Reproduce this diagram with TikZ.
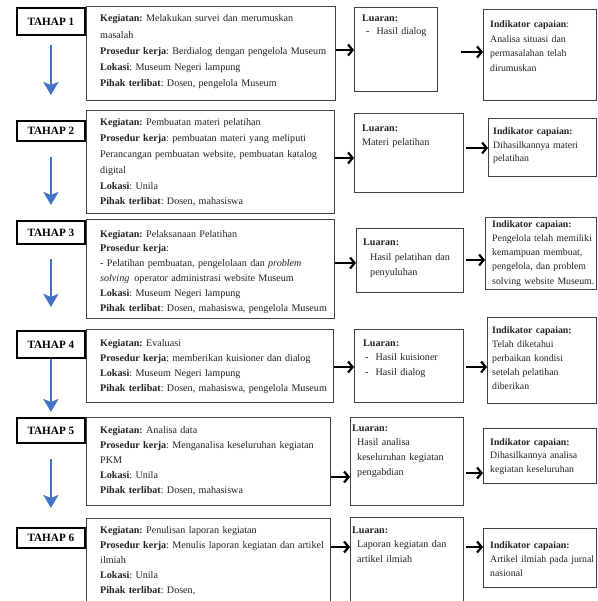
\documentclass[tikz,border=0pt]{standalone}
\usepackage{fontspec}
\setmainfont{Liberation Serif}
\usetikzlibrary{arrows.meta}
\frenchspacing

\definecolor{stepblue}{RGB}{68,114,196}
\definecolor{inkgray}{RGB}{35,35,35}

\tikzset{
  tahap/.style={draw, line width=1.8pt, anchor=north west, inner sep=0pt,
    minimum width=68pt, font=\fontsize{11.2}{13}\selectfont\bfseries},
  boxline/.style={draw=black!75, line width=.8pt, anchor=north west, inner sep=0pt},
  body/.style={anchor=base west, inner sep=0pt, align=left, text=inkgray,
    text width=#1, font=\fontsize{10.1}{15.2}\selectfont},
  outtext/.style={body=#1, font=\fontsize{10.1}{14.8}\selectfont},
  indtext/.style={body=#1, font=\fontsize{9.8}{14}\selectfont},
  flow/.style={line width=2.2pt, -{Straight Barb[length=4.5pt,width=11pt]}},
  down/.style={stepblue, line width=2.8pt, -{Stealth[length=13pt,width=15pt,inset=3pt]}}
}

\begin{document}
\begin{tikzpicture}[x=1pt, y=-1pt]
\clip (0,0) rectangle (597,601);
\fill[white] (0,0) rectangle (597,601);

% tahap boxes
\node[tahap, minimum height=27pt] (t1) at (16,7) {TAHAP 1};
\node[tahap, minimum height=20pt] (t2) at (16,120) {TAHAP 2};
\node[tahap, minimum height=23pt] (t3) at (16,220) {TAHAP 3};
\node[tahap, minimum height=27pt] (t4) at (16,330) {TAHAP 4};
\node[tahap, minimum height=25pt] (t5) at (16,417) {TAHAP 5};
\node[tahap, minimum height=20pt] (t6) at (16,527) {TAHAP 6};

\draw[down, shorten <=9pt, shorten >=25pt] (t1.south) -- (t2.north);
\draw[down, shorten <=15pt, shorten >=15pt] (t2.south) -- (t3.north);
\draw[down, shorten <=14pt, shorten >=23pt] (t3.south) -- (t4.north);
\draw[down, shorten <=0pt, shorten >=5pt] (t4.south) -- (t5.north);
\draw[down, shorten <=15pt, shorten >=19pt] (t5.south) -- (t6.north);

% kegiatan
\node[boxline, minimum width=249pt, minimum height=94pt] (k1) at (86,6) {};
\node[boxline, minimum width=248pt, minimum height=103pt] (k2) at (86,110) {};
\node[boxline, minimum width=248pt, minimum height=99pt] (k3) at (86,219) {};
\node[boxline, minimum width=247pt, minimum height=73pt] (k4) at (86,329) {};
\node[boxline, minimum width=244pt, minimum height=88pt] (k5) at (86,417) {};
\node[boxline, minimum width=244pt, minimum height=95pt] (k6) at (86,518) {};

\node[body=245pt, font=\fontsize{10.1}{16.2}\selectfont] (k1t) at (100,22)
  {\textbf{Kegiatan:} Melakukan survei dan merumuskan\\ masalah\\
   \textbf{Prosedur kerja}: Berdialog dengan pengelola Museum\\
   \textbf{Lokasi}: Museum Negeri lampung\\
   \textbf{Pihak terlibat}: Dosen, pengelola Museum};
\node[body=245pt, font=\fontsize{10.1}{15.8}\selectfont] (k2t) at (100,126)
  {\textbf{Kegiatan:} Pembuatan materi pelatihan\\
   \textbf{Prosedur kerja}: pembuatan materi yang meliputi\\
   Perancangan pembuatan website, pembuatan katalog\\ digital\\
   \textbf{Lokasi}: Unila\\
   \textbf{Pihak terlibat}: Dosen, mahasiswa};
\node[body=245pt, font=\fontsize{10.1}{14.8}\selectfont] (k3t) at (100,237)
  {\textbf{Kegiatan:} Pelaksanaan Pelatihan\\
   \textbf{Prosedur kerja}:\\
   - Pelatihan pembuatan, pengelolaan dan \textit{problem}\\
   \textit{solving}\, operator administrasi website Museum\\
   \textbf{Lokasi}: Museum Negeri lampung\\
   \textbf{Pihak terlibat}: Dosen, mahasiswa, pengelola Museum};
\node[body=245pt] (k4t) at (100,346)
  {\textbf{Kegiatan:} Evaluasi\\
   \textbf{Prosedur kerja}: memberikan kuisioner dan dialog\\
   \textbf{Lokasi}: Museum Negeri lampung\\
   \textbf{Pihak terlibat}: Dosen, mahasiswa, pengelola Museum};
\node[body=245pt] (k5t) at (100,433)
  {\textbf{Kegiatan:} Analisa data\\
   \textbf{Prosedur kerja}: Menganalisa keseluruhan kegiatan\\ PKM\\
   \textbf{Lokasi}: Unila\\
   \textbf{Pihak terlibat}: Dosen, mahasiswa};
\node[body=245pt] (k6t) at (100,533)
  {\textbf{Kegiatan:} Penulisan laporan kegiatan\\
   \textbf{Prosedur kerja}: Menulis laporan kegiatan dan artikel\\ ilmiah\\
   \textbf{Lokasi}: Unila\\
   \textbf{Pihak terlibat}: Dosen,};

% luaran
\node[boxline, minimum width=83pt, minimum height=84pt] (l1) at (354,7) {};
\node[boxline, minimum width=109pt, minimum height=79pt] (l2) at (354,113) {};
\node[boxline, minimum width=107pt, minimum height=64pt] (l3) at (356,228) {};
\node[boxline, minimum width=109pt, minimum height=73pt] (l4) at (354,329) {};
\node[boxline, minimum width=113pt, minimum height=88pt] (l5) at (350,417) {};
\node[boxline, minimum width=113pt, minimum height=95pt] (l6) at (350,517) {};

\node[outtext=110pt, font=\fontsize{10.1}{13}\selectfont] (l1t) at (362,22)
  {\textbf{Luaran:}\\ \hspace*{4pt}-\hspace{7pt}Hasil dialog};
\node[outtext=110pt, font=\fontsize{10.1}{14}\selectfont] (l2t) at (362,132)
  {\textbf{Luaran:}\\ Materi pelatihan};
\node[outtext=110pt] (l3t) at (363,246)
  {\textbf{Luaran:}\\ \hspace*{7pt}Hasil pelatihan dan\\ \hspace*{7pt}penyuluhan};
\node[outtext=110pt] (l4t) at (363,346)
  {\textbf{Luaran:}\\ \hspace*{2pt}-\hspace{7pt}Hasil kuisioner\\
   \hspace*{2pt}-\hspace{7pt}Hasil dialog};
\node[outtext=115pt] (l5t) at (352,431)
  {\textbf{Luaran:}\\ \hspace*{5pt}Hasil analisa\\ \hspace*{5pt}keseluruhan kegiatan\\
   \hspace*{5pt}pengabdian};
\node[outtext=115pt] (l6t) at (352,533)
  {\textbf{Luaran:}\\ \hspace*{5pt}Laporan kegiatan dan\\ \hspace*{5pt}artikel ilmiah};

% indikator capaian
\node[boxline, minimum width=113pt, minimum height=91pt] (i1) at (483,9) {};
\node[boxline, minimum width=108pt, minimum height=58pt] (i2) at (488,118) {};
\node[boxline, minimum width=111pt, minimum height=72pt] (i3) at (485,217) {};
\node[boxline, minimum width=109pt, minimum height=86pt] (i4) at (487,317) {};
\node[boxline, minimum width=113pt, minimum height=55pt] (i5) at (483,428) {};
\node[boxline, minimum width=113pt, minimum height=59pt] (i6) at (483,528) {};

\node[indtext=120pt, font=\fontsize{9.8}{14.5}\selectfont] (i1t) at (490,28)
  {\textbf{Indikator capaian}:\\ Analisa situasi dan\\ permasalahan telah\\ dirumuskan};
\node[indtext=120pt, font=\fontsize{9.8}{13.5}\selectfont] (i2t) at (493,135)
  {\textbf{Indikator capaian:}\\ Dihasilkannya materi\\ pelatihan};
\node[indtext=120pt] (i3t) at (492,228)
  {\textbf{Indikator capaian:}\\ Pengelola telah memiliki\\ kemampuan membuat,\\
   pengelola, dan problem\\ solving website Museum.};
\node[indtext=120pt] (i4t) at (492,333)
  {\textbf{Indikator capaian:}\\ Telah diketahui\\ perbaikan kondisi\\
   setelah pelatihan\\ diberikan};
\node[indtext=120pt, font=\fontsize{9.8}{13.5}\selectfont] (i5t) at (490,445)
  {\textbf{Indikator capaian:}\\ Dihasilkannya analisa\\ kegiatan keseluruhan};
\node[indtext=120pt] (i6t) at (490,548)
  {\textbf{Indikator capaian:}\\ Artikel ilmiah pada jurnal\\ nasional};

% arrows between the boxes
\coordinate (a1) at (0,50);  \coordinate (b1) at (0,52);
\coordinate (a2) at (0,158); \coordinate (b2) at (0,148);
\coordinate (a3) at (0,263); \coordinate (b3) at (0,260);
\coordinate (a4) at (0,367); \coordinate (b4) at (0,367);
\coordinate (a5) at (0,477); \coordinate (b5) at (0,473);
\coordinate (a6) at (0,547); \coordinate (b6) at (0,547);

\foreach \r/\gap in {1/23,2/2,3/2,4/2,5/2,6/2} {
  \draw[flow] (k\r.east |- a\r) -- (l\r.west |- a\r);
  \draw[flow, shorten <=\gap pt] (l\r.east |- b\r) -- (i\r.west |- b\r);
}
\end{tikzpicture}
\end{document}
